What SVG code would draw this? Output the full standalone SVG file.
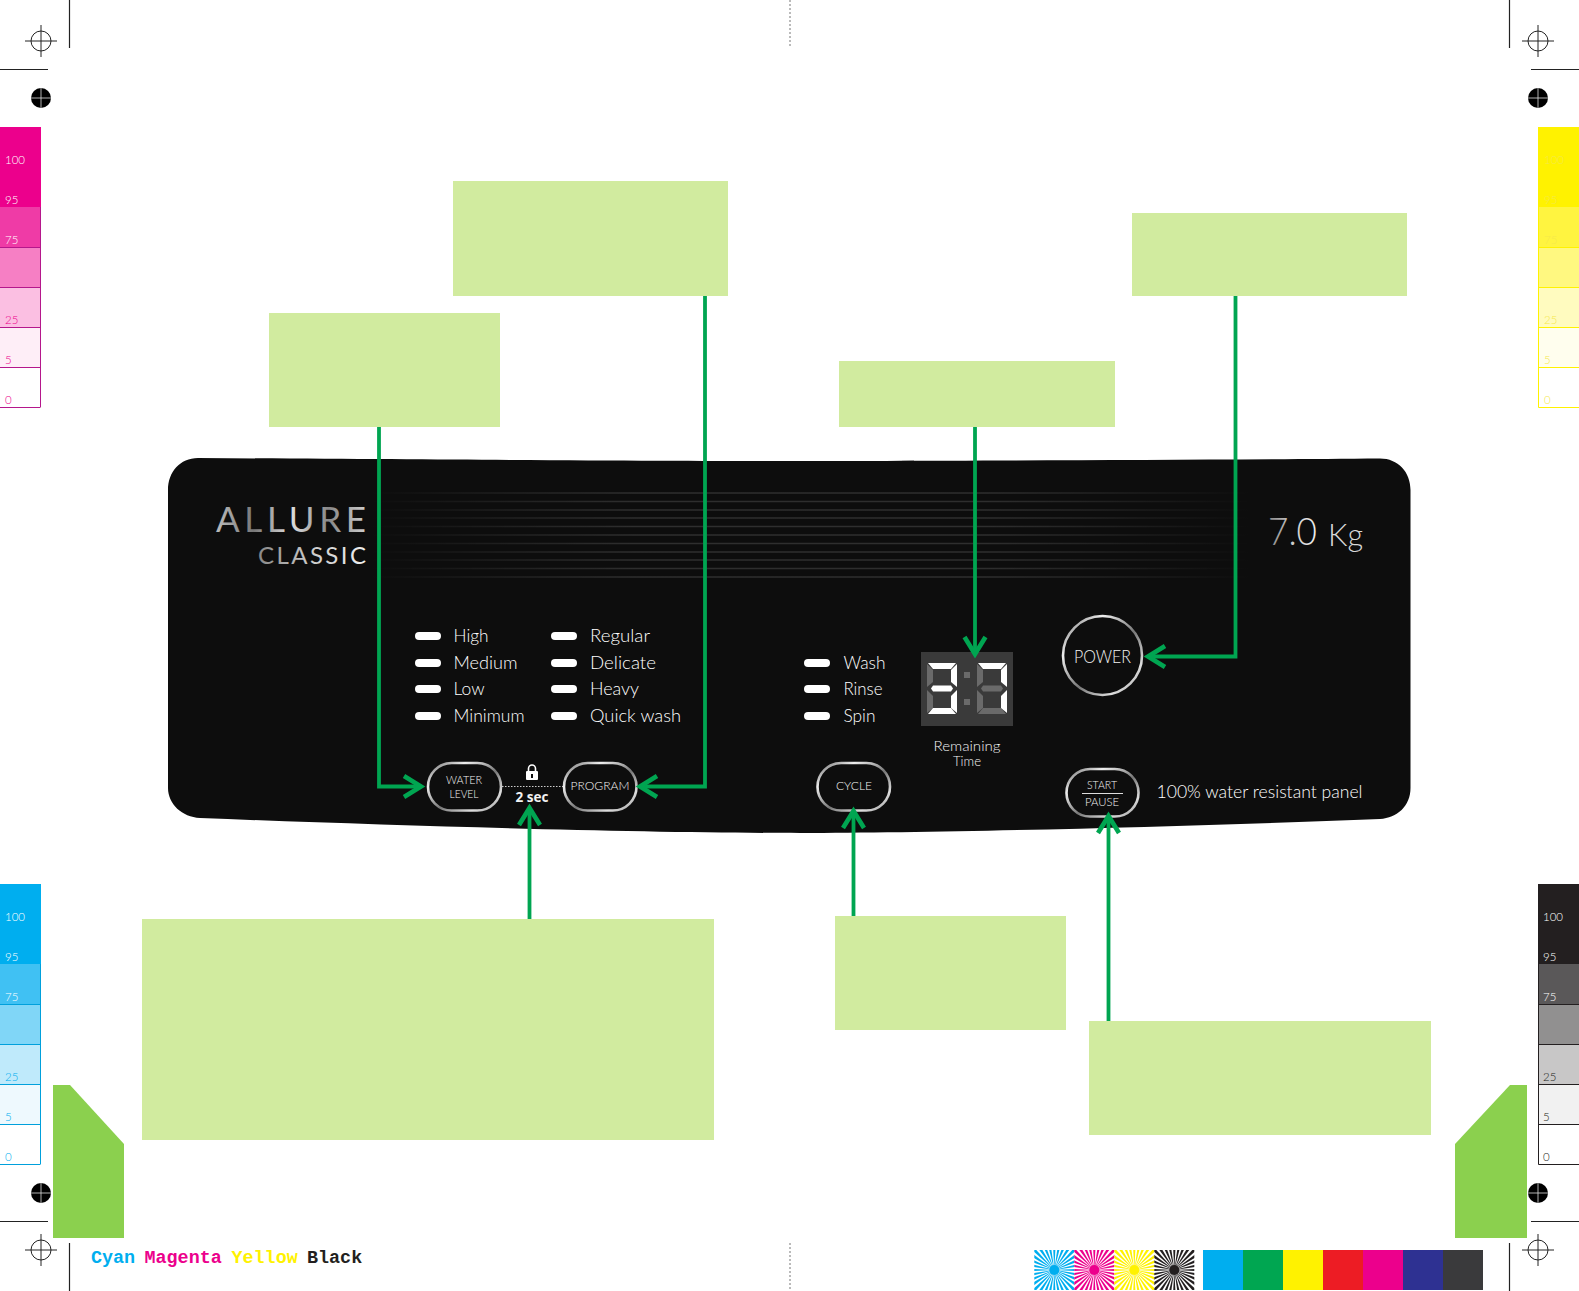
<svg xmlns="http://www.w3.org/2000/svg" xmlns:xlink="http://www.w3.org/1999/xlink" width="1579" height="1291" viewBox="0 0 1579 1291">
<style>
.note{fill:#d1eb9f}
.corner{fill:#8bd04e}
.reg{fill:none;stroke:#222;stroke-width:1}
.trim{stroke:#222;stroke-width:1.2}
.led{fill:#fff}
.lbl{font-family:Lato,"Liberation Sans",sans-serif;font-size:17px;font-weight:300;fill:#fff}
.btxt{font-family:Lato,"Liberation Sans",sans-serif;font-weight:300;fill:#f4f4f4;text-anchor:middle}
.btn{fill:#0d0d0d;stroke:url(#chrome);stroke-width:2.600}
.sc{font-family:Lato,"Liberation Sans",sans-serif;font-weight:300;font-size:11.500px}
.on{fill:#fff}
.off{fill:#6a6a6a}
.conn{fill:none;stroke:#00a551;stroke-width:3.800}
.head{fill:none;stroke:#00a551;stroke-width:4.600}
.groove{stroke:url(#fade);stroke-width:1.4}
</style>
<defs>
<linearGradient id="chrome" x1="0" y1="0" x2="1" y2="1">
<stop offset="0" stop-color="#666"/><stop offset=".25" stop-color="#eee"/><stop offset=".55" stop-color="#777"/><stop offset=".8" stop-color="#ddd"/><stop offset="1" stop-color="#999"/>
</linearGradient>
<linearGradient id="silver" x1="0" y1="0" x2="1" y2="0">
<stop offset="0" stop-color="#bbb"/><stop offset=".25" stop-color="#777"/><stop offset=".5" stop-color="#ddd"/><stop offset=".75" stop-color="#888"/><stop offset="1" stop-color="#ccc"/>
</linearGradient>
<linearGradient id="silver2" x1="0" y1="0" x2="1" y2="0">
<stop offset="0" stop-color="#888"/><stop offset=".5" stop-color="#ccc"/><stop offset="1" stop-color="#eee"/>
</linearGradient>
<linearGradient id="fade" gradientUnits="userSpaceOnUse" x1="370" y1="0" x2="1250" y2="0">
<stop offset="0" stop-color="#333" stop-opacity="0"/><stop offset=".3" stop-color="#2e2e2e"/><stop offset=".7" stop-color="#2e2e2e"/><stop offset="1" stop-color="#333" stop-opacity="0"/>
</linearGradient>
<clipPath id="sq"><rect x="-20" y="-20" width="40" height="40"/></clipPath>
<polygon id="w1" points="0,0 32,-1.7 32,1.7" fill="currentColor"/>
<g id="w2"><use xlink:href="#w1"/><use xlink:href="#w1" transform="rotate(11.25)"/></g>
<g id="w4"><use xlink:href="#w2"/><use xlink:href="#w2" transform="rotate(22.5)"/></g>
<g id="w8"><use xlink:href="#w4"/><use xlink:href="#w4" transform="rotate(45)"/></g>
<g id="w16"><use xlink:href="#w8"/><use xlink:href="#w8" transform="rotate(90)"/></g>
<g id="burst" clip-path="url(#sq)"><use xlink:href="#w16"/><use xlink:href="#w16" transform="rotate(180)"/><circle r="5" fill="currentColor"/></g>
<g id="cross"><circle r="10" class="reg"/><path class="reg" d="M-16,0H16M0,-16V16"/></g>
<g id="dot"><circle r="10" fill="#000"/><path d="M-10,0H10M0,-10V10" stroke="#ddd" stroke-width=".8"/></g>
<polygon id="sh" points="1,0 29,0 24,6 6,6"/>
<polygon id="sm" points="6,0 24,0 26,3 24,6 6,6 4,3"/>
<polygon id="sv" points="0,1 6,7 6,19 0,24"/>
</defs>
<rect width="1579" height="1291" fill="#fff"/>

<g id="print-marks">
<use xlink:href="#cross" x="41" y="41"/><use xlink:href="#cross" x="1538" y="41"/><use xlink:href="#cross" x="41" y="1250"/><use xlink:href="#cross" x="1538" y="1250"/>
<use xlink:href="#dot" x="41" y="98"/><use xlink:href="#dot" x="1538" y="98"/><use xlink:href="#dot" x="41" y="1193"/><use xlink:href="#dot" x="1538" y="1193"/>
<path class="trim" d="M69.5,0V48M0,69.5H48M1509.5,0V48M1531,69.5H1579M69.5,1243V1291M0,1221.5H48M1509.5,1243V1291M1531,1221.5H1579"/>
<path d="M790,0V48M790,1243V1291" stroke="#777" stroke-width="1" stroke-dasharray="2 2"/>
</g>

<g id="scale-magenta">
<rect x="0" y="127" width="41" height="80" fill="#ec008c"/><rect x="0" y="207" width="41" height="40" fill="#ef3ba6"/><rect x="0" y="247" width="41" height="40" fill="#f67fc4"/><rect x="0" y="287" width="41" height="40" fill="#fbbfe2"/><rect x="0" y="327" width="41" height="40" fill="#feeef7"/><rect x="0" y="367" width="41" height="40" fill="#fff"/>
<path d="M0,247.500H40.500M0,287.500H40.500M0,327.500H40.500M0,367.500H40.500M0,407.500H40.500M40.500,207V407" stroke="#b5178c" fill="none"/>
<g class="sc"><text x="5" y="164" fill="#fff">100</text><text x="5" y="204" fill="#fff">95</text><text x="5" y="244" fill="#fff">75</text><text x="5" y="324" fill="#ec008c">25</text><text x="5" y="364" fill="#ec008c">5</text><text x="5" y="404" fill="#ec008c">0</text></g>
</g>
<g id="scale-cyan">
<rect x="0" y="884" width="41" height="80" fill="#00aeef"/><rect x="0" y="964" width="41" height="40" fill="#40c1f3"/><rect x="0" y="1004" width="41" height="40" fill="#80d6f7"/><rect x="0" y="1044" width="41" height="40" fill="#bfeafb"/><rect x="0" y="1084" width="41" height="40" fill="#eef9fe"/><rect x="0" y="1124" width="41" height="40" fill="#fff"/>
<path d="M0,1004.500H40.500M0,1044.500H40.500M0,1084.500H40.500M0,1124.500H40.500M0,1164.500H40.500M40.500,964V1164" stroke="#00a0dc" fill="none"/>
<g class="sc"><text x="5" y="921" fill="#fff">100</text><text x="5" y="961" fill="#fff">95</text><text x="5" y="1001" fill="#fff">75</text><text x="5" y="1081" fill="#00aeef">25</text><text x="5" y="1121" fill="#00aeef">5</text><text x="5" y="1161" fill="#00aeef">0</text></g>
</g>
<g id="scale-yellow">
<rect x="1538" y="127" width="41" height="80" fill="#fff200"/><rect x="1538" y="207" width="41" height="40" fill="#fff440"/><rect x="1538" y="247" width="41" height="40" fill="#fff880"/><rect x="1538" y="287" width="41" height="40" fill="#fffbbf"/><rect x="1538" y="327" width="41" height="40" fill="#fffeee"/><rect x="1538" y="367" width="41" height="40" fill="#fff"/>
<path d="M1538.500,207V407.500H1579M1538,247.500H1579M1538,287.500H1579M1538,327.500H1579M1538,367.500H1579" stroke="#fff200" fill="none"/>
<g class="sc" fill="#f5e94a"><text x="1544" y="164">100</text><text x="1544" y="204">95</text><text x="1544" y="244">75</text><text x="1544" y="324">25</text><text x="1544" y="364">5</text><text x="1544" y="404">0</text></g>
</g>
<g id="scale-black">
<rect x="1538" y="884" width="41" height="80" fill="#231f20"/><rect x="1538" y="964" width="41" height="40" fill="#5a5859"/><rect x="1538" y="1004" width="41" height="40" fill="#919090"/><rect x="1538" y="1044" width="41" height="40" fill="#c8c7c7"/><rect x="1538" y="1084" width="41" height="40" fill="#f1f1f1"/><rect x="1538" y="1124" width="41" height="40" fill="#fff"/>
<path d="M1538.500,884V1164.500H1579M1538,1004.500H1579M1538,1044.500H1579M1538,1084.500H1579M1538,1124.500H1579" stroke="#231f20" fill="none"/>
<g class="sc"><text x="1543" y="921" fill="#fff">100</text><text x="1543" y="961" fill="#fff">95</text><text x="1543" y="1001" fill="#fff">75</text><text x="1543" y="1081" fill="#231f20">25</text><text x="1543" y="1121" fill="#231f20">5</text><text x="1543" y="1161" fill="#231f20">0</text></g>
</g>

<g id="corner-tabs">
<polygon class="corner" points="53,1085 70,1085 124,1144 124,1238 53,1238"/>
<polygon class="corner" points="1527,1085 1510,1085 1455,1144 1455,1238 1527,1238"/>
</g>

<g id="color-legend" font-family="'Liberation Mono',monospace" font-weight="bold" font-size="18.400">
<text x="91" y="1263" fill="#00aeef">Cyan</text><text x="144.500" y="1263" fill="#ec008c">Magenta</text><text x="231.500" y="1263" fill="#fff200">Yellow</text><text x="307" y="1263" fill="#231f20">Black</text>
</g>
<g id="color-bursts">
<use xlink:href="#burst" x="1054.300" y="1270" color="#00aeef"/><use xlink:href="#burst" x="1094.300" y="1270" color="#ec008c"/><use xlink:href="#burst" x="1134.300" y="1270" color="#fff200"/><use xlink:href="#burst" x="1174.300" y="1270" color="#231f20"/>
</g>
<g id="color-bars">
<rect x="1203" y="1250" width="40" height="40" fill="#00aeef"/><rect x="1243" y="1250" width="40" height="40" fill="#00a651"/><rect x="1283" y="1250" width="40" height="40" fill="#fff200"/><rect x="1323" y="1250" width="40" height="40" fill="#ed1c24"/><rect x="1363" y="1250" width="40" height="40" fill="#ec008c"/><rect x="1403" y="1250" width="40" height="40" fill="#2e3192"/><rect x="1443" y="1250" width="40" height="40" fill="#3a3a3c"/>
</g>

<g id="panel">
<path d="M198,458 C500,460 700,461 790,461 C900,461 1200,460 1380,458.500 C1398,458.500 1410.500,472 1410.500,490 V788 C1410.500,806 1397,818 1380,819 C1200,826 950,833 800,833 C650,833 400,826 200,818 C182,817 168,804 168,788 V490 C168,472 180,458 198,458 Z" fill="#0d0d0d"/>
<g id="grooves">
<path class="groove" d="M370,493H1250"/><path class="groove" d="M370,501.500H1250"/><path class="groove" d="M370,510H1250"/><path class="groove" d="M370,518H1250"/><path class="groove" d="M370,526.500H1250"/><path class="groove" d="M370,535H1250"/><path class="groove" d="M370,543.500H1250"/><path class="groove" d="M370,552H1250"/><path class="groove" d="M370,560H1250"/><path class="groove" d="M370,568.500H1250"/><path class="groove" d="M370,577H1250"/>
</g>
<text x="216" y="532" font-family="Lato,'Liberation Sans',sans-serif" font-weight="400" font-size="35" fill="url(#silver)" textLength="150" lengthAdjust="spacing">ALLURE</text>
<text x="258" y="564" font-family="Lato,'Liberation Sans',sans-serif" font-weight="400" font-size="24" fill="url(#silver2)" textLength="108" lengthAdjust="spacing">CLASSIC</text>
<text x="1268" y="545" font-family="Lato,'Liberation Sans',sans-serif" font-weight="300" font-size="37" fill="url(#silver2)" textLength="49" lengthAdjust="spacingAndGlyphs">7.0</text>
<text x="1328" y="546" font-family="Lato,'Liberation Sans',sans-serif" font-weight="300" font-size="31" fill="#d8d8d8" textLength="35" lengthAdjust="spacingAndGlyphs">Kg</text>
</g>

<g id="water-level-leds">
<rect class="led" x="415" y="632" width="26" height="8" rx="4"/><rect class="led" x="415" y="659" width="26" height="8" rx="4"/><rect class="led" x="415" y="685" width="26" height="8" rx="4"/><rect class="led" x="415" y="712" width="26" height="8" rx="4"/>
<text class="lbl" x="453.500" y="642" textLength="35" lengthAdjust="spacingAndGlyphs">High</text><text class="lbl" x="453.500" y="669" textLength="64" lengthAdjust="spacingAndGlyphs">Medium</text><text class="lbl" x="453.500" y="695" textLength="31" lengthAdjust="spacingAndGlyphs">Low</text><text class="lbl" x="453.500" y="722" textLength="71" lengthAdjust="spacingAndGlyphs">Minimum</text>
</g>
<g id="program-leds">
<rect class="led" x="551" y="632" width="26" height="8" rx="4"/><rect class="led" x="551" y="659" width="26" height="8" rx="4"/><rect class="led" x="551" y="685" width="26" height="8" rx="4"/><rect class="led" x="551" y="712" width="26" height="8" rx="4"/>
<text class="lbl" x="590" y="642" textLength="60" lengthAdjust="spacingAndGlyphs">Regular</text><text class="lbl" x="590" y="669" textLength="66" lengthAdjust="spacingAndGlyphs">Delicate</text><text class="lbl" x="590" y="695" textLength="49" lengthAdjust="spacingAndGlyphs">Heavy</text><text class="lbl" x="590" y="722" textLength="91" lengthAdjust="spacingAndGlyphs">Quick wash</text>
</g>
<g id="cycle-leds">
<rect class="led" x="804" y="659" width="26" height="8" rx="4"/><rect class="led" x="804" y="685" width="26" height="8" rx="4"/><rect class="led" x="804" y="712" width="26" height="8" rx="4"/>
<text class="lbl" x="843.500" y="669" textLength="42" lengthAdjust="spacingAndGlyphs">Wash</text><text class="lbl" x="843.500" y="695" textLength="39" lengthAdjust="spacingAndGlyphs">Rinse</text><text class="lbl" x="843.500" y="722" textLength="32" lengthAdjust="spacingAndGlyphs">Spin</text>
</g>

<g id="display">
<rect x="921" y="652" width="92" height="74" fill="#3a3a3a"/>
<g transform="translate(927,663)">
<use xlink:href="#sh" class="on"/><use xlink:href="#sv" class="off"/><use xlink:href="#sv" class="off" y="26"/>
<use xlink:href="#sm" class="on" y="22.500"/><use xlink:href="#sh" class="on" transform="translate(0,51) scale(1,-1)"/>
<use xlink:href="#sv" class="on" transform="translate(30,0) scale(-1,1)"/><use xlink:href="#sv" class="on" transform="translate(30,26) scale(-1,1)"/>
</g>
<g transform="translate(977,663)">
<use xlink:href="#sh" class="on"/><use xlink:href="#sv" class="off"/><use xlink:href="#sv" class="off" y="26"/>
<use xlink:href="#sm" class="off" y="22.500"/><use xlink:href="#sh" class="off" transform="translate(0,51) scale(1,-1)"/>
<use xlink:href="#sv" class="on" transform="translate(30,0) scale(-1,1)"/><use xlink:href="#sv" class="on" transform="translate(30,26) scale(-1,1)"/>
</g>
<rect x="964" y="672" width="6" height="6" class="off"/><rect x="964" y="699" width="6" height="6" class="off"/>
<text class="btxt" x="967" y="751" font-size="13.500" textLength="67" lengthAdjust="spacingAndGlyphs">Remaining</text>
<text class="btxt" x="967" y="766" font-size="13.500" textLength="28" lengthAdjust="spacingAndGlyphs">Time</text>
</g>

<g id="btn-water-level">
<rect class="btn" x="428" y="763" width="73" height="47.500" rx="23.700"/>
<text class="btxt" x="464" y="784" font-size="12" textLength="36" lengthAdjust="spacingAndGlyphs">WATER</text>
<text class="btxt" x="464" y="797.500" font-size="12" textLength="29" lengthAdjust="spacingAndGlyphs">LEVEL</text>
</g>
<g id="lock-2sec">
<path d="M528.500,771V768.500a3.500,3.500 0 0 1 7,0V771" fill="none" stroke="#fff" stroke-width="1.600"/>
<rect x="526" y="771" width="12" height="9" rx="1" fill="#fff"/><rect x="531" y="774" width="2" height="4" fill="#0d0d0d"/>
<path d="M502,786.500H563" stroke="#ccc" stroke-width="1" stroke-dasharray="1.500 1.500"/>
<text x="532" y="802" font-family="'Open Sans','Liberation Sans',sans-serif" font-weight="700" font-size="13.500" fill="#f2f2f2" text-anchor="middle" textLength="33" lengthAdjust="spacingAndGlyphs">2 sec</text>
</g>
<g id="btn-program">
<rect class="btn" x="564" y="763" width="72.500" height="47.500" rx="23.700"/>
<text class="btxt" x="600" y="790" font-size="12" textLength="59" lengthAdjust="spacingAndGlyphs">PROGRAM</text>
</g>
<g id="btn-cycle">
<rect class="btn" x="817.500" y="763" width="72.500" height="47.500" rx="23.700"/>
<text class="btxt" x="854" y="790" font-size="12" textLength="36" lengthAdjust="spacingAndGlyphs">CYCLE</text>
</g>
<g id="btn-power">
<circle class="btn" cx="1102.500" cy="655.500" r="39.500"/>
<text class="btxt" x="1102.500" y="662.500" font-size="17" textLength="57" lengthAdjust="spacingAndGlyphs">POWER</text>
</g>
<g id="btn-start-pause">
<rect class="btn" x="1066.500" y="769" width="72" height="47.500" rx="23.700"/>
<text class="btxt" x="1102" y="789" font-size="12" textLength="30" lengthAdjust="spacingAndGlyphs">START</text>
<path d="M1082,793.500H1123" stroke="#ddd" stroke-width="1"/>
<text class="btxt" x="1102" y="806" font-size="12" textLength="34" lengthAdjust="spacingAndGlyphs">PAUSE</text>
<text class="lbl" x="1156.500" y="798" font-size="18" textLength="206" lengthAdjust="spacingAndGlyphs">100% water resistant panel</text>
</g>

<g id="callout-1"><rect class="note" x="453" y="181" width="275" height="115"/></g>
<g id="callout-2"><rect class="note" x="269" y="313" width="231" height="114"/></g>
<g id="callout-3"><rect class="note" x="839" y="361" width="276" height="66"/></g>
<g id="callout-4"><rect class="note" x="1132" y="213" width="275" height="83"/></g>
<g id="callout-5"><rect class="note" x="142" y="919" width="572" height="221"/></g>
<g id="callout-6"><rect class="note" x="835" y="916" width="231" height="114"/></g>
<g id="callout-7"><rect class="note" x="1089" y="1021" width="342" height="114"/></g>

<g id="connectors">
<path class="conn" d="M379,427V786.500H421"/><path class="head" d="M404,776L421,786.500L404,797"/>
<path class="conn" d="M705,296V786.500H640"/><path class="head" d="M657,776L640,786.500L657,797"/>
<path class="conn" d="M529.500,919V809"/><path class="head" d="M519,825L529.500,808L540,825"/>
<path class="conn" d="M853.500,916V812"/><path class="head" d="M843,828L853.500,811L864,828"/>
<path class="conn" d="M1108.500,1021V817"/><path class="head" d="M1098,833L1108.500,816L1119,833"/>
<path class="conn" d="M975,427V653"/><path class="head" d="M964.500,637L975,654L985.500,637"/>
<path class="conn" d="M1235.500,296V656.500H1148"/><path class="head" d="M1165,646L1148,656.500L1165,667"/>
</g>
</svg>
